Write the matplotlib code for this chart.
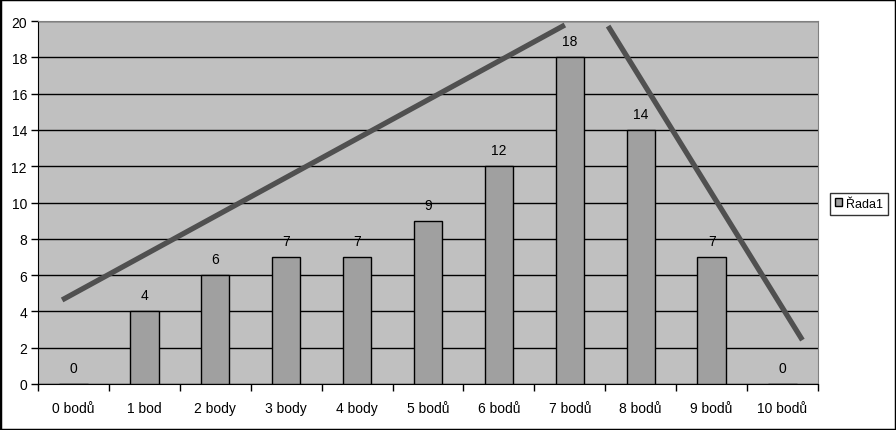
import matplotlib.pyplot as plt
from matplotlib.patches import Rectangle

plt.rcParams['font.family'] = ['Liberation Sans', 'DejaVu Sans']

# categories and counts
categories = ['0 bodů', '1 bod', '2 body', '3 body', '4 body', '5 bodů',
              '6 bodů', '7 bodů', '8 bodů', '9 bodů', '10 bodů']
counts = [0, 4, 6, 7, 7, 9, 12, 18, 14, 7, 0]
series_name = 'Řada1'

# hand-drawn trend lines (data coordinates)
rise_x = [-0.16, 6.93]
rise_y = [4.63, 19.78]
fall_x = [7.54, 10.28]
fall_y = [19.72, 2.42]

fig = plt.figure(figsize=(8.96, 4.31), dpi=100)
fig.patch.set_facecolor('white')
ax = fig.add_axes([38 / 896, 1 - 385 / 431, 780 / 896, 363 / 431])
ax.set_facecolor('#C0C0C0')

x = list(range(len(categories)))
bars = ax.bar(x, counts, width=0.4, color='#A0A0A0', edgecolor='black',
              linewidth=1, label=series_name, zorder=3)

for xi, c in zip(x, counts):
    ax.annotate(str(c), (xi, c), xytext=(0, 6.5), textcoords='offset points',
                ha='center', va='bottom', fontsize=10, zorder=4)

ax.plot(rise_x, rise_y, color='#505050', linewidth=3.8, solid_capstyle='butt', zorder=5)
ax.plot(fall_x, fall_y, color='#505050', linewidth=3.8, solid_capstyle='butt', zorder=5)

ax.set_xlim(-0.5, len(categories) - 0.5)
ax.set_ylim(0, 20)
ax.set_yticks(range(0, 21, 2))
ax.yaxis.grid(True, color='black', linewidth=1)
ax.set_axisbelow(True)

ax.set_xticks(x)
ax.set_xticklabels(categories, fontsize=10)
ax.set_xticks([i - 0.5 for i in range(len(categories) + 1)], minor=True)
ax.tick_params(axis='x', which='major', length=0, pad=12)
ax.tick_params(axis='x', which='minor', length=5, width=1, color='black')
ax.tick_params(axis='y', length=5, width=1, labelsize=10, pad=3)

ax.spines['left'].set_color('black')
ax.spines['bottom'].set_color('black')
ax.spines['top'].set_color('#808080')
ax.spines['right'].set_color('#808080')

leg = ax.legend(loc='center left', bbox_to_anchor=(1.015, 0.497), fontsize=9,
                frameon=True, fancybox=False, edgecolor='black',
                handlelength=0.6, handleheight=0.6, handletextpad=0.3,
                borderpad=0.4, borderaxespad=0)
leg.get_frame().set_linewidth(1)

fig.add_artist(Rectangle((0, 0), 1, 1, transform=fig.transFigure,
                         fill=False, edgecolor='black', linewidth=2.5))

fig.savefig('out.png', dpi=100)
